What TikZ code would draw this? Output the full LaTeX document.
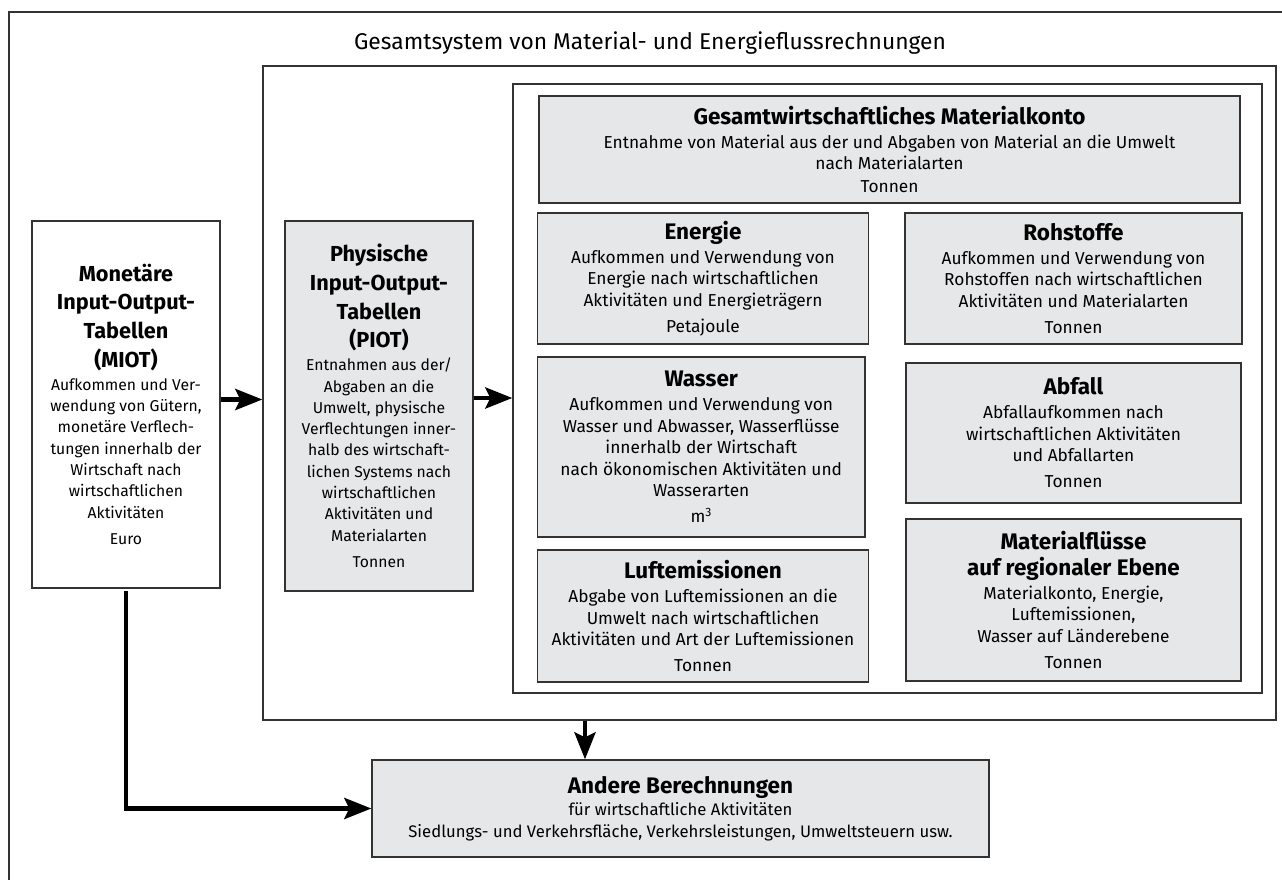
\documentclass[tikz,border=0pt]{standalone}
\usepackage{fontspec}
\setmainfont{Fira Sans}
\usetikzlibrary{arrows.meta}
\definecolor{boxgray}{HTML}{E6E7E8}
\definecolor{linegray}{HTML}{333333}
\newcommand{\bodyf}{\fontsize{17.3}{21.5}\selectfont}
\newcommand{\sbodyf}{\fontsize{15.7}{21.3}\selectfont}
\newcommand{\abodyf}{\fontsize{16.7}{21.5}\selectfont}
\newcommand{\ttlf}{\fontsize{22.5}{24}\selectfont\bfseries}
\newcommand{\sttlf}{\fontsize{21.7}{24}\selectfont\bfseries}
\tikzset{
  frame/.style={draw=linegray, line width=1.3pt, rectangle, inner sep=0pt},
  gbox/.style={draw=linegray, line width=1.3pt, fill=boxgray, rectangle, align=center, inner sep=0pt, font=\bodyf},
  sgbox/.style={gbox, font=\sbodyf},
  wbox/.style={gbox, fill=white, font=\sbodyf},
  arr/.style={line width=4.5pt, -{Stealth[length=27pt, width=21pt, inset=5pt]}},
  titletext/.style={font=\fontsize{22.8}{24}\selectfont, inner sep=0pt}
}
\begin{document}
\begin{tikzpicture}[x=1pt,y=-1pt]
\useasboundingbox (0,0) rectangle (1282,880);
\begin{scope}
\clip (0,0) rectangle (1282,880);
\draw[draw=linegray, line width=1.4pt] (9,12) rectangle (1300,900);
\end{scope}
\node[titletext] (title) at (650,43) {Gesamtsystem von Material- und Energieflussrechnungen};
% frames
\node[frame, minimum width=1013pt, minimum height=654pt] (mid) at (769.5,393) {};
\node[frame, minimum width=749pt, minimum height=609pt] (inner) at (887.5,388.5) {};
% boxes
\node[gbox, minimum width=701pt, minimum height=107pt] (gesamt) at (889.5,149.5)
 {{\ttlf Gesamtwirtschaftliches Materialkonto}\\[2pt]
  Entnahme von Material aus der und Abgaben von Material an die Umwelt\\
  nach Materialarten\\[1pt] Tonnen};
\node[gbox, minimum width=331pt, minimum height=131pt] (energie) at (703,278.5)
 {{\ttlf Energie}\\[2.5pt] Aufkommen und Verwendung von\\ Energie nach wirtschaftlichen\\ Aktivitäten und Energieträgern\\[4.5pt] Petajoule};
\node[gbox, minimum width=337pt, minimum height=131pt] (rohstoffe) at (1073.5,278.5)
 {{\ttlf Rohstoffe}\\[2.5pt] Aufkommen und Verwendung von\\ Rohstoffen nach wirtschaftlichen\\ Aktivitäten und Materialarten\\[4.5pt] Tonnen};
\node[gbox, minimum width=327.5pt, minimum height=180pt] (wasser) at (701.25,447)
 {{\ttlf Wasser}\\[2.5pt] Aufkommen und Verwendung von\\ Wasser und Abwasser, Wasserflüsse\\ innerhalb der Wirtschaft\\ nach ökonomischen Aktivitäten und\\ Wasserarten\\[4.5pt] m\textsuperscript{3}};
\node[gbox, minimum width=335pt, minimum height=140pt] (abfall) at (1073.5,433)
 {{\ttlf Abfall}\\[2.5pt] Abfallaufkommen nach\\ wirtschaftlichen Aktivitäten\\ und Abfallarten\\[4.5pt] Tonnen};
\node[gbox, minimum width=331pt, minimum height=132pt] (luft) at (703,616)
 {{\ttlf Luftemissionen}\\[2.5pt] Abgabe von Luftemissionen an die\\ Umwelt nach wirtschaftlichen\\ Aktivitäten und Art der Luftemissionen\\[4.5pt] Tonnen};
\node[gbox, minimum width=335pt, minimum height=162pt] (regional) at (1073.5,600)
 {{\ttlf Materialflüsse}\\[4pt] {\ttlf auf regionaler Ebene}\\[2.5pt] Materialkonto, Energie,\\ Luftemissionen,\\ Wasser auf Länderebene\\[4.5pt] Tonnen};
\node[wbox, minimum width=188pt, minimum height=367pt] (miot) at (126,404.5)
 {{\sttlf Monetäre}\\[7.5pt] {\sttlf Input-Output-}\\[7.5pt] {\sttlf Tabellen}\\[7.5pt] {\sttlf (MIOT)}\\[1.5pt]
  Aufkommen und Ver-\\ wendung von Gütern,\\ monetäre Verflech-\\ tungen innerhalb der\\ Wirtschaft nach\\ wirtschaftlichen\\ Aktivitäten\\[5.5pt] Euro};
\node[sgbox, minimum width=188pt, minimum height=370pt] (piot) at (379,406)
 {{\sttlf Physische}\\[7.5pt] {\sttlf Input-Output-}\\[7.5pt] {\sttlf Tabellen}\\[7.5pt] {\sttlf (PIOT)}\\[1.5pt]
  Entnahmen aus der/\\ Abgaben an die\\ Umwelt, physische\\ Verflechtungen inner-\\ halb des wirtschaft-\\ lichen Systems nach\\ wirtschaftlichen\\ Aktivitäten und\\ Materialarten\\[5.5pt] Tonnen};
\node[gbox, font=\abodyf, minimum width=617pt, minimum height=97pt] (andere) at (680.5,808.5)
 {{\ttlf Andere Berechnungen}\\[1pt] für wirtschaftliche Aktivitäten\\ Siedlungs- und Verkehrsfläche, Verkehrsleistungen, Umweltsteuern usw.};
% arrows
\draw[arr] ([yshift=5pt]miot.east) -- ([yshift=5pt]miot.east -| mid.west);
\draw[arr] ([yshift=8pt]piot.east) -- ([yshift=8pt]piot.east -| inner.west);
\coordinate (c3) at (585,740);
\draw[arr] (c3 |- mid.south) -- (c3 |- andere.north);
\draw[arr, shorten <=2pt] (miot.south) |- (andere.west);
\end{tikzpicture}
\end{document}
